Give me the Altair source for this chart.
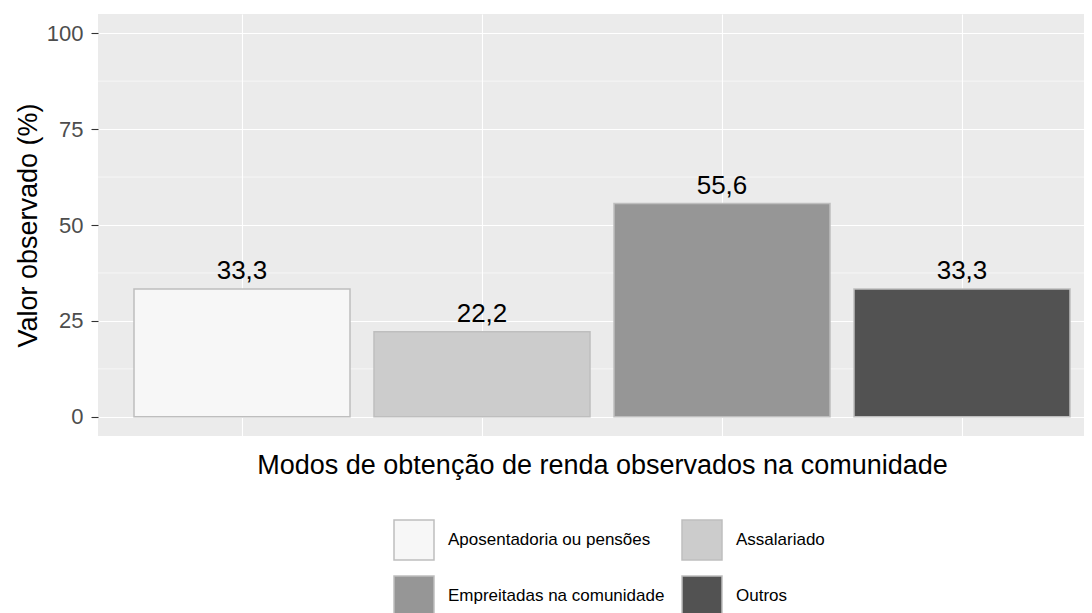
import altair as alt
import pandas as pd

categorias = ["Aposentadoria ou pensões", "Assalariado", "Empreitadas na comunidade", "Outros"]
valores = [33.3, 22.2, 55.6, 33.3]
cores = ["#F7F7F7", "#CCCCCC", "#969696", "#525252"]
y_ticks = [0, 25, 50, 75, 100]
y_minor = [12.5, 37.5, 62.5, 87.5]

FONT = "Liberation Sans"

df = pd.DataFrame({
    "categoria": categorias,
    "valor": valores,
    "idx": list(range(1, len(categorias) + 1)),
    "rotulo": [f"{v:.1f}".replace(".", ",") for v in valores],
})
df_minor = pd.DataFrame({"minor": y_minor})

W = 986
H = 422
x_scale = alt.Scale(domain=[0.4, 0.4 + W / 240], nice=False, zero=False)
y_scale = alt.Scale(domain=[-5, 105], nice=False, zero=False)

y_axis = alt.Axis(
    values=y_ticks, title="Valor observado (%)", grid=True, gridColor="white", gridWidth=1.1,
    domain=False, tickColor="#333333", tickWidth=1.1, tickSize=7, labelPadding=8,
    labelFont=FONT, labelFontSize=22, labelColor="#4D4D4D",
    titleFont=FONT, titleFontSize=27, titleFontWeight="normal", titleColor="black",
    titleBaseline="alphabetic", titleX=-62,
)
x_axis = alt.Axis(
    values=[1, 2, 3, 4], title="Modos de obtenção de renda observados na comunidade",
    grid=True, gridColor="white", gridWidth=1.1, domain=False, ticks=False, labels=False,
    titleFont=FONT, titleFontSize=27, titleFontWeight="normal", titleColor="black",
    titleBaseline="alphabetic", titleX=504, titleY=37,
)

minor = alt.Chart(df_minor).mark_rule(color="white", strokeWidth=0.55).encode(
    y=alt.Y("minor:Q", scale=y_scale, axis=y_axis)
)

bars = alt.Chart(df).transform_calculate(
    lo="datum.idx - 0.45", hi="datum.idx + 0.45"
).mark_bar(stroke="#BEBEBE", strokeWidth=1.5).encode(
    x=alt.X("lo:Q", scale=x_scale, axis=x_axis),
    x2="hi:Q",
    y=alt.Y("valor:Q", scale=y_scale, axis=y_axis),
    y2=alt.datum(0),
    fill=alt.Fill(
        "categoria:N",
        scale=alt.Scale(domain=categorias, range=cores),
        legend=alt.Legend(
            title=None, orient="none", legendX=295, legendY=505, direction="horizontal",
            columns=2, symbolType="square", symbolSize=1600, symbolStrokeColor="#BEBEBE",
            symbolStrokeWidth=1.5, labelFont=FONT, labelFontSize=17, labelColor="black",
            labelOffset=13, columnPadding=14, rowPadding=10, padding=0, labelLimit=400,
        ),
    ),
)

text = alt.Chart(df).mark_text(
    font=FONT, fontSize=26, color="black", baseline="alphabetic", dy=-10
).encode(
    x=alt.X("idx:Q", scale=x_scale, axis=x_axis),
    y=alt.Y("valor:Q", scale=y_scale, axis=y_axis),
    text="rotulo:N",
)

chart = alt.layer(minor, bars, text).properties(
    width=W, height=H,
    autosize=alt.AutoSizeParams(type="none"),
    padding={"left": 90, "top": 6, "right": 0, "bottom": 179},
).configure_view(fill="#EBEBEB", strokeWidth=0)

chart.save("out.html", embed_options={"renderer": "svg", "actions": False})
